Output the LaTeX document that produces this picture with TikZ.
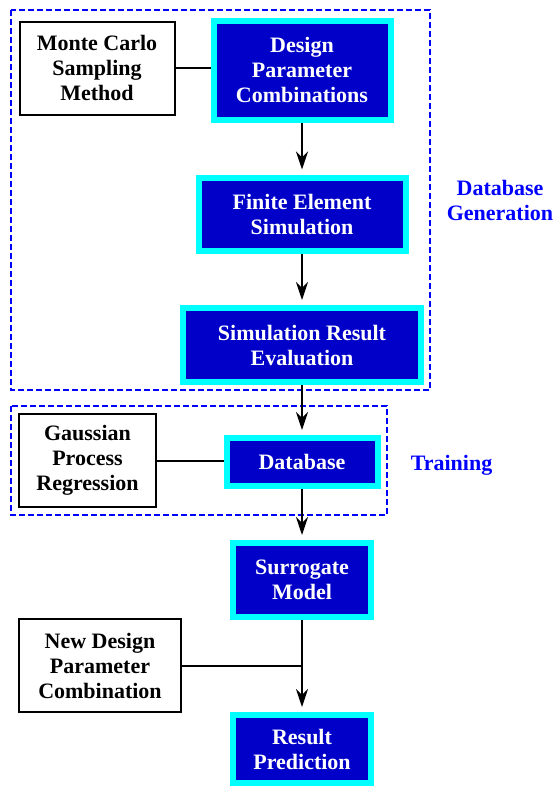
\documentclass[tikz,border=0pt]{standalone}
\usepackage{fontspec}
\setmainfont{Liberation Serif}
\usetikzlibrary{arrows.meta}
\definecolor{boxblue}{RGB}{0,0,200}
\definecolor{cyanb}{RGB}{0,255,255}
\definecolor{dashblue}{RGB}{0,0,255}
\begin{document}
\begin{tikzpicture}[x=1pt,y=-1pt,
  every node/.style={font=\fontsize{22}{25}\selectfont\bfseries, align=center, inner sep=0pt},
  bluebox/.style={draw=cyanb, fill=boxblue, line width=6pt, text=white},
  whitebox/.style={draw=black, line width=2pt, fill=white},
  link/.style={line width=2pt},
  arr/.style={line width=2pt, -{Stealth[length=18pt,width=12pt,inset=6pt]}, shorten >=5pt},
  group/.style={draw=dashblue, line width=1.5pt, dash pattern=on 6pt off 3pt},
  grouplabel/.style={text=dashblue}]
\useasboundingbox (0,0) rectangle (555,788);
% groups
\draw[group] (11,10) rectangle (430,390);
\draw[group] (11,406) rectangle (387,515);
% main boxes
\node[bluebox, minimum width=177pt, minimum height=99pt] (design) at (302,70) {Design\\Parameter\\Combinations};
\node[bluebox, minimum width=207pt, minimum height=73pt] (fem) at (302,214) {Finite Element\\Simulation};
\node[bluebox, minimum width=238pt, minimum height=74pt] (eval) at (302,345) {Simulation Result\\Evaluation};
\node[bluebox, minimum width=151pt, minimum height=48pt] (db) at (302,462) {Database};
\node[bluebox, minimum width=138pt, minimum height=74pt] (surr) at (302,580) {Surrogate\\Model};
\node[bluebox, minimum width=138pt, minimum height=68pt] (pred) at (302,749) {Result\\Prediction};
% side boxes
\node[whitebox, minimum width=155pt, minimum height=93pt] (mc) at (97,68) {Monte Carlo\\Sampling\\Method};
\node[whitebox, minimum width=137pt, minimum height=93pt] (gpr) at (87.5,460.5) {Gaussian\\Process\\Regression};
\node[whitebox, minimum width=162pt, minimum height=93pt] (nd) at (100,665.5) {New Design\\Parameter\\Combination};
% group labels
\node[grouplabel] (lblgen) at (500,200) {Database\\Generation};
\node[grouplabel] (lbltrain) at (451.5,465) {Training};
% connectors
\draw[link] (mc.east) -- (mc.east -| design.west);
\draw[link] (gpr.east) -- (gpr.east -| db.west);
\coordinate (join) at (nd.east -| surr.south);
\draw[link] (nd.east) -- (join);
% arrows
\draw[arr] (design.south) -- (fem.north);
\draw[arr] (fem.south) -- (eval.north);
\draw[arr] (eval.south) -- (db.north);
\draw[arr] (db.south) -- (surr.north);
\draw[arr] (surr.south) -- (pred.north);
\end{tikzpicture}
\end{document}
